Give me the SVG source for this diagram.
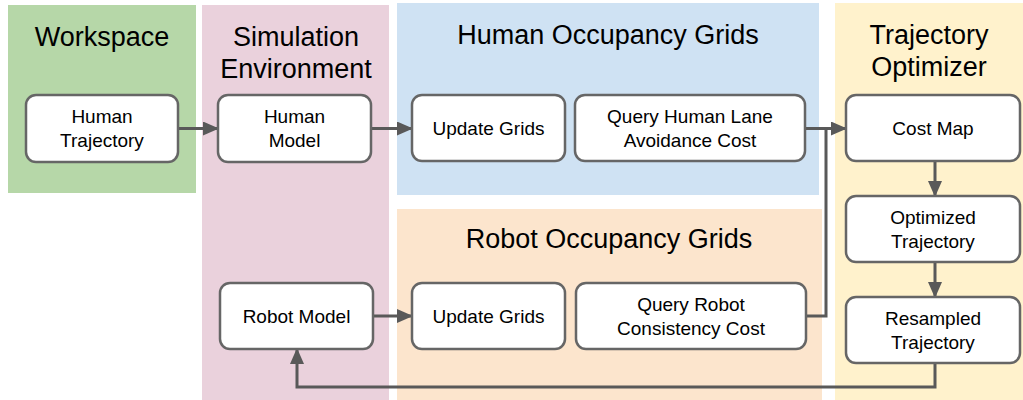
<svg xmlns="http://www.w3.org/2000/svg" width="1023" height="400" viewBox="0 0 1023 400">
  <style>
    text { font-family: "Liberation Sans", Arial, sans-serif; fill: #000; text-anchor: middle; }
    .title { font-size: 27px; }
    .label { font-size: 19px; }
    .box { fill: #fff; stroke: #666; stroke-width: 2.5; }
    .wire { fill: none; stroke: #595959; stroke-width: 3; }
  </style>
  <defs>
    <marker id="arrow" markerUnits="userSpaceOnUse" markerWidth="16" markerHeight="14" refX="15" refY="7" orient="auto">
      <path d="M0,0 L16,7 L0,14 z" fill="#595959"/>
    </marker>
  </defs>

  <!-- swimlane panels -->
  <g id="panels">
    <rect x="8" y="5" width="188" height="188" fill="#b6d7a8"/>
    <rect x="202" y="5" width="187" height="395" fill="#ead1dc"/>
    <rect x="397" y="3" width="422" height="192" fill="#cfe2f3"/>
    <rect x="397" y="209" width="425" height="191" fill="#fce5cd"/>
    <rect x="835" y="3" width="188" height="397" fill="#fff2cc"/>
    <text class="title" x="102" y="46">Workspace</text>
    <text class="title" x="296" y="46">Simulation</text>
    <text class="title" x="296" y="78">Environment</text>
    <text class="title" x="608" y="44">Human Occupancy Grids</text>
    <text class="title" x="609" y="248">Robot Occupancy Grids</text>
    <text class="title" x="929" y="44">Trajectory</text>
    <text class="title" x="929" y="76">Optimizer</text>
  </g>

  <!-- connectors -->
  <g id="connectors">
    <path class="wire" d="M178,128.5 H218" marker-end="url(#arrow)"/>
    <path class="wire" d="M371,128.5 H412" marker-end="url(#arrow)"/>
    <path class="wire" d="M805,128.5 H846" marker-end="url(#arrow)"/>
    <path class="wire" d="M806,316 H826 V128.5"/>
    <path class="wire" d="M373,316 H412" marker-end="url(#arrow)"/>
    <path class="wire" d="M935,161 V196" marker-end="url(#arrow)"/>
    <path class="wire" d="M935,262 V297" marker-end="url(#arrow)"/>
    <path class="wire" d="M935,363 V387 H297 V349" marker-end="url(#arrow)"/>
  </g>

  <g id="human-trajectory">
    <rect class="box" x="26" y="95" width="152" height="67" rx="10"/>
    <text class="label" x="102" y="123">Human</text>
    <text class="label" x="102" y="147">Trajectory</text>
  </g>
  <g id="human-model">
    <rect class="box" x="218" y="95" width="153" height="67" rx="10"/>
    <text class="label" x="294.5" y="123">Human</text>
    <text class="label" x="294.5" y="147">Model</text>
  </g>
  <g id="robot-model">
    <rect class="box" x="220" y="283" width="153" height="66" rx="10"/>
    <text class="label" x="296.5" y="322.5">Robot Model</text>
  </g>
  <g id="human-update-grids">
    <rect class="box" x="412" y="95" width="153" height="66" rx="10"/>
    <text class="label" x="488.5" y="135">Update Grids</text>
  </g>
  <g id="human-lane-cost">
    <rect class="box" x="575" y="95" width="230" height="66" rx="10"/>
    <text class="label" x="690" y="123">Query Human Lane</text>
    <text class="label" x="690" y="147">Avoidance Cost</text>
  </g>
  <g id="robot-update-grids">
    <rect class="box" x="412" y="283" width="153" height="66" rx="10"/>
    <text class="label" x="488.5" y="322.5">Update Grids</text>
  </g>
  <g id="robot-consistency-cost">
    <rect class="box" x="576" y="283" width="230" height="66" rx="10"/>
    <text class="label" x="691" y="310.5">Query Robot</text>
    <text class="label" x="691" y="334.5">Consistency Cost</text>
  </g>
  <g id="cost-map">
    <rect class="box" x="846" y="95" width="174" height="66" rx="10"/>
    <text class="label" x="933" y="135">Cost Map</text>
  </g>
  <g id="optimized-trajectory">
    <rect class="box" x="846" y="196" width="174" height="66" rx="10"/>
    <text class="label" x="933" y="223.5">Optimized</text>
    <text class="label" x="933" y="247.5">Trajectory</text>
  </g>
  <g id="resampled-trajectory">
    <rect class="box" x="846" y="297" width="174" height="66" rx="10"/>
    <text class="label" x="933" y="324.5">Resampled</text>
    <text class="label" x="933" y="348.5">Trajectory</text>
  </g>
</svg>
